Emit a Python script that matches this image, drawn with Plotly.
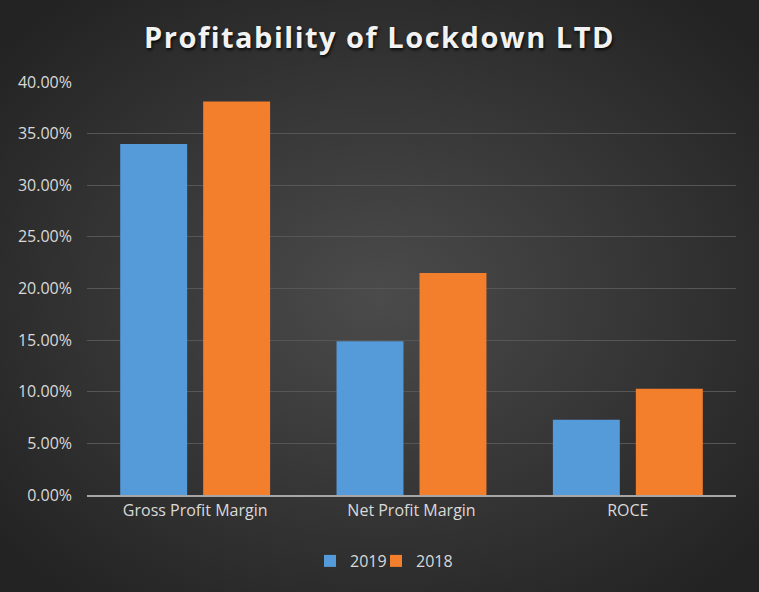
import base64
import plotly.graph_objects as go

categories = ["Gross Profit Margin", "Net Profit Margin", "ROCE"]
values_2019 = [0.340, 0.149, 0.073]
values_2018 = [0.381, 0.215, 0.103]
series_names = ["2019", "2018"]

W, H = 759, 592
ML, MR, MT, MB = 87, 23, 82, 97
PW, PH = W - ML - MR, H - MT - MB

svg = f'''<svg xmlns="http://www.w3.org/2000/svg" width="{W}" height="{H}" viewBox="0 0 {W} {H}" preserveAspectRatio="none">
<defs><radialGradient id="g" cx="50%" cy="50%" r="65%">
<stop offset="0%" stop-color="#4b4b4b"/><stop offset="100%" stop-color="#232323"/>
</radialGradient></defs>
<rect width="{W}" height="{H}" fill="url(#g)"/></svg>'''
bg_src = "data:image/svg+xml;base64," + base64.b64encode(svg.encode()).decode()

fig = go.Figure()
fig.add_trace(go.Bar(x=categories, y=values_2019, name=series_names[0], legend="legend",
                     showlegend=True,
                     marker=dict(color="#559ad9", line=dict(width=0))))
fig.add_trace(go.Bar(x=categories, y=values_2018, name=series_names[1], legend="legend2",
                     showlegend=True,
                     marker=dict(color="#f37f2c", line=dict(width=0))))

leg_common = dict(orientation="h", xanchor="left", y=-(561 - 495) / PH, yanchor="middle",
                  font=dict(size=16, color="#d9d9d9"), bgcolor="rgba(0,0,0,0)", itemwidth=30,
                  visible=True)

fig.update_layout(
    width=W, height=H,
    showlegend=True,
    margin=dict(l=ML, r=MR, t=MT, b=MB),
    paper_bgcolor="#333333",
    plot_bgcolor="rgba(0,0,0,0)",
    barmode="group",
    bargap=0.233,
    bargroupgap=0.193,
    font=dict(family="Open Sans, Liberation Sans, sans-serif", color="#d9d9d9", size=16),
    title=dict(text="<b>Profitability of Lockdown LTD</b>", x=0.5, xanchor="center",
               y=1 - 38 / H, yanchor="middle",
               font=dict(family="Open Sans, sans-serif", size=29, color="#f2f2f2",
                         shadow="1px 2px 3px rgba(0,0,0,0.8)")),
    xaxis=dict(showgrid=False, showline=True, linecolor="#a6a6a6", linewidth=2,
               ticks="", tickfont=dict(size=16, color="#d9d9d9")),
    yaxis=dict(range=[0, 0.4], dtick=0.05, tickformat=".2%", showgrid=True,
               gridcolor="#565656", gridwidth=1, zeroline=False, showline=False,
               ticks="", ticklabelstandoff=14, tickfont=dict(size=16, color="#d9d9d9")),
    legend=dict(x=(310 - ML) / PW, **leg_common),
    legend2=dict(x=(376 - ML) / PW, **leg_common),
    images=[dict(source=bg_src, xref="paper", yref="paper",
                 x=-ML / PW, y=1 + MT / PH, sizex=W / PW, sizey=H / PH,
                 xanchor="left", yanchor="top", sizing="stretch", layer="below")],
)

post = ("document.body.style.margin='0';document.body.style.padding='0';"
        "document.body.style.background='#232323';"
        "var t=document.querySelector('.gtitle');if(t){t.style.letterSpacing='1.5px';}")
fig.write_html("out.html", post_script=post, config={"displayModeBar": False})
